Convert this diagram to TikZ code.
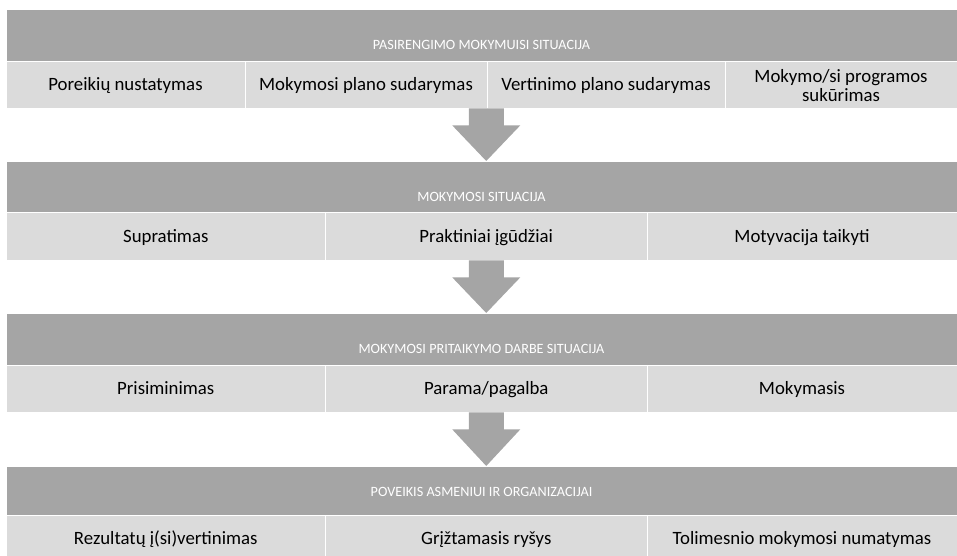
\documentclass[tikz,border=0pt]{standalone}
\usepackage{fontspec}
\setmainfont{Carlito}
\usetikzlibrary{calc}
\definecolor{bandgray}{HTML}{A5A5A5}
\definecolor{cellgray}{HTML}{DBDBDB}
\begin{document}
\begin{tikzpicture}[x=1pt,y=-1pt,
  band/.style={fill=bandgray, draw=white, line width=0.6pt, inner sep=0pt, anchor=north west, minimum width=951pt, minimum height=52pt},
  headtext/.style={text=white, inner sep=0pt, text height=9.1pt, text depth=0pt, font=\fontsize{14.2}{16}\selectfont},
  cell/.style={fill=cellgray, draw=white, line width=0.8pt, inner sep=0pt, align=center,
    text height=15pt, text depth=2.9pt, font=\fontsize{18.8}{21}\selectfont},
  flow/.style={fill=bandgray}
]
\useasboundingbox (0,0) rectangle (957,556);

% ---- Band 1
\node[band] (b1) at (6,9) {};
\node[headtext] (h1) at (481.5,44.5) {PASIRENGIMO MOKYMUISI SITUACIJA};
\node[cell, minimum width=239pt, minimum height=47pt] (c11) at (125.5,84.5) {Poreikių nustatymas};
\node[cell, minimum width=242pt, minimum height=47pt] (c12) at (366,84.5) {Mokymosi plano sudarymas};
\node[cell, minimum width=238pt, minimum height=47pt] (c13) at (606,84.5) {Vertinimo plano sudarymas};
\node[cell, minimum width=232pt, minimum height=47pt, text height=34.4pt, text depth=0pt] (c14) at (841,84.5) {Mokymo/si programos\\[-1.6pt]sukūrimas};

% ---- Band 2
\node[band, minimum height=51pt] (b2) at (6,161) {};
\node[headtext] (h2) at (481.5,196.7) {MOKYMOSI SITUACIJA};
\node[cell, minimum width=319.5pt, minimum height=48pt] (c21) at (165.75,236) {Supratimas};
\node[cell, minimum width=321.5pt, minimum height=48pt] (c22) at (486.25,236) {Praktiniai įgūdžiai};
\node[cell, minimum width=310pt, minimum height=48pt] (c23) at (802,236) {Motyvacija taikyti};

% ---- Band 3
\node[band] (b3) at (6,313) {};
\node[headtext] (h3) at (481.5,348.5) {MOKYMOSI PRITAIKYMO DARBE SITUACIJA};
\node[cell, minimum width=319.5pt, minimum height=47pt] (c31) at (165.75,388.5) {Prisiminimas};
\node[cell, minimum width=321.5pt, minimum height=47pt] (c32) at (486.25,388.5) {Parama/pagalba};
\node[cell, minimum width=310pt, minimum height=47pt] (c33) at (802,388.5) {Mokymasis};

% ---- Band 4
\node[band, minimum height=49pt] (b4) at (6,466) {};
\node[headtext] (h4) at (481.5,491.7) {POVEIKIS ASMENIUI IR ORGANIZACIJAI};
\node[cell, minimum width=319.5pt, minimum height=47pt] (c41) at (165.75,538.5) {Rezultatų į(si)vertinimas};
\node[cell, minimum width=321.5pt, minimum height=47pt] (c42) at (486.25,538.5) {Grįžtamasis ryšys};
\node[cell, minimum width=310pt, minimum height=47pt] (c43) at (802,538.5) {Tolimesnio mokymosi numatymas};

% ---- Arrows
\coordinate (a1s) at (c22.north |- c12.south); \coordinate (a1e) at (c22.north |- b2.north);
\coordinate (a2s) at (c22.south); \coordinate (a2e) at (c32.north |- b3.north);
\coordinate (a3s) at (c32.south); \coordinate (a3e) at (c42.north |- b4.north);
\foreach \s/\e in {a1s/a1e,a2s/a2e,a3s/a3e}{
  \fill[flow] ($(\s)+(-17.5,0)$) -- ($(\s)+(17.5,0)$) -- ($(\s)+(17.5,17)$) -- ($(\s)+(34,17)$)
    -- (\e) -- ($(\s)+(-34,17)$) -- ($(\s)+(-17.5,17)$) -- cycle;
}
\end{tikzpicture}
\end{document}
